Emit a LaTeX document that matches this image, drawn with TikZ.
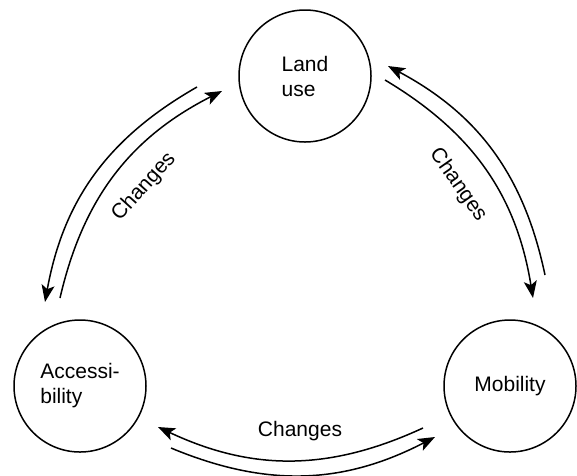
\documentclass[tikz,border=0pt]{standalone}
\usepackage{fontspec}
\setmainfont{Liberation Sans}
\usetikzlibrary{arrows.meta}

\begin{document}
\begin{tikzpicture}[x=1pt,y=-1pt,
  state/.style={circle, draw, line width=1.5pt, minimum size=132pt,
    inner sep=0pt, align=left, font=\fontsize{21}{25}\selectfont},
  flow/.style={line width=1.5pt,
    -{Stealth[length=17pt,width=13pt,inset=4pt]}},
  lbl/.style={font=\fontsize{21}{25}\selectfont, inner sep=0pt}]
\useasboundingbox (0,0) rectangle (577,475);

% the three states
\node[state] (land) at (305,76)  {Land\\use};
\node[state] (acc)  at (80,386)  {Accessi-\\bility};
\node[state] (mob)  at (510,386) {Mobility};

% free ends of the paired arcs
\coordinate (lo1) at (197,87);  \coordinate (lo2) at (45,302);
\coordinate (li1) at (60,298);  \coordinate (li2) at (222,91);
\coordinate (ro1) at (545,275); \coordinate (ro2) at (388,66);
\coordinate (ri1) at (385,80);  \coordinate (ri2) at (533,298);
\coordinate (bu1) at (423,428); \coordinate (bu2) at (158,427);
\coordinate (bl1) at (171,448); \coordinate (bl2) at (435,437);

% land use <-> accessibility
\draw[flow] (lo1) to[bend right=25] (lo2);
\draw[flow] (li1) to[bend left=25]  (li2);
% land use <-> mobility
\draw[flow] (ro1) to[bend right=25] (ro2);
\draw[flow] (ri1) to[bend left=25]  (ri2);
% mobility <-> accessibility
\draw[flow] (bu1) to[bend left=25]  (bu2);
\draw[flow] (bl1) to[bend right=25] (bl2);

% labels
\node[lbl, rotate=48]  (cl) at (144,187) {Changes};
\node[lbl, rotate=-55] (cr) at (458,185) {Changes};
\node[lbl]             (cb) at (300,431) {Changes};
\end{tikzpicture}
\end{document}
